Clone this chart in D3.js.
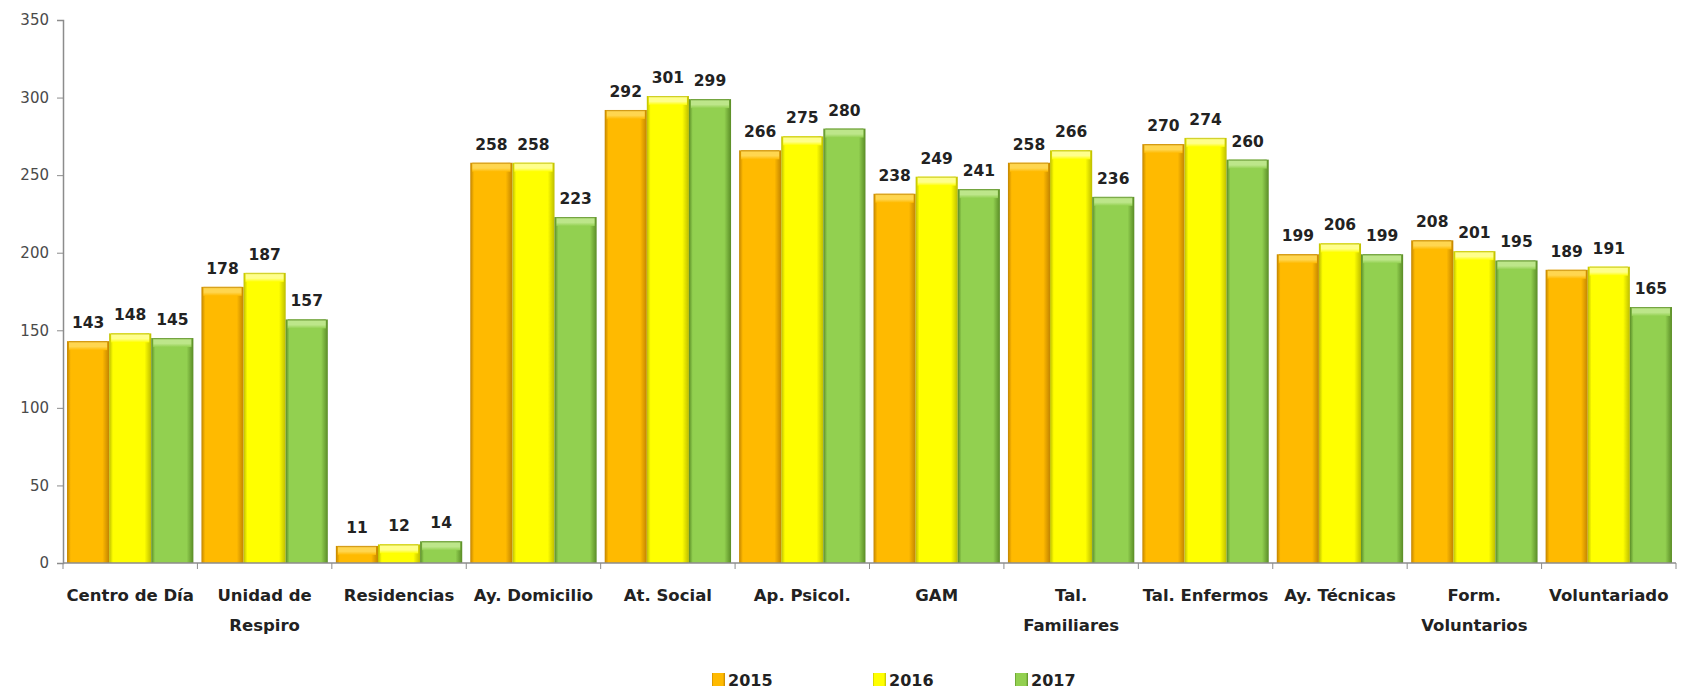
<!DOCTYPE html>
<html>
<head>
<meta charset="utf-8">
<script src="https://cdn.jsdelivr.net/npm/d3@7"></script>
<style>
  html, body { margin: 0; padding: 0; background: #fff; }
  svg { display: block; }
</style>
</head>
<body>
<div id="chart"></div>
<script>
// data
const categories = [
  ["Centro de Día"], ["Unidad de", "Respiro"], ["Residencias"], ["Ay. Domicilio"],
  ["At. Social"], ["Ap. Psicol."], ["GAM"], ["Tal.", "Familiares"],
  ["Tal. Enfermos"], ["Ay. Técnicas"], ["Form.", "Voluntarios"], ["Voluntariado"]
];
const years = ["2015", "2016", "2017"];
const values2015 = [143, 178, 11, 258, 292, 266, 238, 258, 270, 199, 208, 189];
const values2016 = [148, 187, 12, 258, 301, 275, 249, 266, 274, 206, 201, 191];
const values2017 = [145, 157, 14, 223, 299, 280, 241, 236, 260, 199, 195, 165];
const yTicks = [0, 50, 100, 150, 200, 250, 300, 350];

const series = [values2015, values2016, values2017];

// colours: body, edge, top highlight
const palette = {
  "2015": { body: "#FFBA00", edge: "#C28400", top: "#FFD650" },
  "2016": { body: "#FFFF00", edge: "#BDBD00", top: "#FFFF8C" },
  "2017": { body: "#92D050", edge: "#5A8C26", top: "#BDE68A" }
};

const W = 1686, H = 689;
const margin = { top: 20, right: 10, bottom: 126, left: 63 };
const plotW = 1613;
const plotH = H - margin.top - margin.bottom;

const svg = d3.select("#chart").append("svg")
  .attr("width", W).attr("height", H);

const defs = svg.append("defs");
years.forEach(y => {
  const c = palette[y];
  const g = defs.append("linearGradient").attr("id", "side" + y)
    .attr("x1", "0%").attr("x2", "100%").attr("y1", "0%").attr("y2", "0%");
  g.append("stop").attr("offset", "0%").attr("stop-color", c.edge);
  g.append("stop").attr("offset", "9%").attr("stop-color", c.body);
  g.append("stop").attr("offset", "84%").attr("stop-color", c.body);
  g.append("stop").attr("offset", "100%").attr("stop-color", c.edge);
  const t = defs.append("linearGradient").attr("id", "top" + y)
    .attr("x1", "0%").attr("x2", "0%").attr("y1", "0%").attr("y2", "100%");
  t.append("stop").attr("offset", "0%").attr("stop-color", c.edge);
  t.append("stop").attr("offset", "20%").attr("stop-color", c.top);
  t.append("stop").attr("offset", "60%").attr("stop-color", c.top);
  t.append("stop").attr("offset", "100%").attr("stop-color", c.body);
});

const g = svg.append("g").attr("transform", `translate(${margin.left},${margin.top})`);

const x0 = d3.scaleBand().domain(d3.range(categories.length)).range([0, plotW])
  .paddingInner(0.06).paddingOuter(0.03);
const x1 = d3.scaleBand().domain(years).range([0, x0.bandwidth()]).padding(0);
const y = d3.scaleLinear().domain([0, 350]).range([plotH, 0]);

// y axis
const yAxis = g.append("g")
  .call(d3.axisLeft(y).tickValues(yTicks).tickSize(6).tickPadding(8));
yAxis.select(".domain").attr("stroke", "#8c8c8c").attr("stroke-width", 1.5);
yAxis.selectAll(".tick line").attr("stroke", "#8c8c8c");
yAxis.selectAll(".tick text")
  .attr("font-family", "DejaVu Sans, sans-serif")
  .attr("font-size", 15).attr("fill", "#4a4a4a");

// bars
const groups = g.selectAll("g.cat")
  .data(categories.map((c, i) => ({ i, vals: series.map((s, k) => ({ year: years[k], v: s[i] })) })))
  .join("g").attr("class", "cat")
  .attr("transform", d => `translate(${x0(d.i)},0)`);

const bar = groups.selectAll("g.bar").data(d => d.vals).join("g").attr("class", "bar");

bar.append("rect")
  .attr("x", d => x1(d.year))
  .attr("y", d => y(d.v))
  .attr("width", x1.bandwidth())
  .attr("height", d => plotH - y(d.v))
  .attr("fill", d => `url(#side${d.year})`);

bar.append("rect")
  .attr("x", d => x1(d.year) + 2)
  .attr("y", d => y(d.v))
  .attr("width", x1.bandwidth() - 4)
  .attr("height", d => Math.min(9, plotH - y(d.v)))
  .attr("fill", d => `url(#top${d.year})`);

bar.append("text")
  .attr("x", d => x1(d.year) + x1.bandwidth() / 2)
  .attr("y", d => y(d.v) - 13)
  .attr("text-anchor", "middle")
  .attr("font-family", "DejaVu Sans, sans-serif")
  .attr("font-weight", "bold")
  .attr("font-size", 15.5)
  .attr("fill", "#222")
  .text(d => d.v);

// x axis
g.append("line")
  .attr("x1", 0).attr("x2", plotW)
  .attr("y1", plotH).attr("y2", plotH)
  .attr("stroke", "#8c8c8c").attr("stroke-width", 1.5);

const step = plotW / categories.length;
g.selectAll("line.xtick").data(d3.range(categories.length + 1)).join("line")
  .attr("class", "xtick")
  .attr("x1", d => d * step).attr("x2", d => d * step)
  .attr("y1", plotH).attr("y2", plotH + 6)
  .attr("stroke", "#8c8c8c");

g.selectAll("text.cat").data(categories).join("text")
  .attr("class", "cat")
  .attr("x", (d, i) => x0(i) + x0.bandwidth() / 2)
  .attr("y", plotH + 38)
  .attr("text-anchor", "middle")
  .attr("font-family", "DejaVu Sans, sans-serif")
  .attr("font-weight", "bold")
  .attr("font-size", 16.5)
  .attr("fill", "#222")
  .selectAll("tspan").data(d => d).join("tspan")
  .attr("x", function () { return this.parentNode.getAttribute("x"); })
  .attr("dy", (d, j) => j === 0 ? 0 : 30)
  .text(d => d);

// legend
const legendX = [712, 873, 1015];
const legend = svg.append("g").selectAll("g").data(years).join("g")
  .attr("transform", (d, i) => `translate(${legendX[i]},673)`);
legend.append("rect")
  .attr("width", 13).attr("height", 13)
  .attr("fill", d => `url(#side${d})`);
legend.append("text")
  .attr("x", 16).attr("y", 12.5)
  .attr("font-family", "DejaVu Sans, sans-serif")
  .attr("font-weight", "bold")
  .attr("font-size", 16)
  .attr("fill", "#222")
  .text(d => d);
</script>
</body>
</html>
